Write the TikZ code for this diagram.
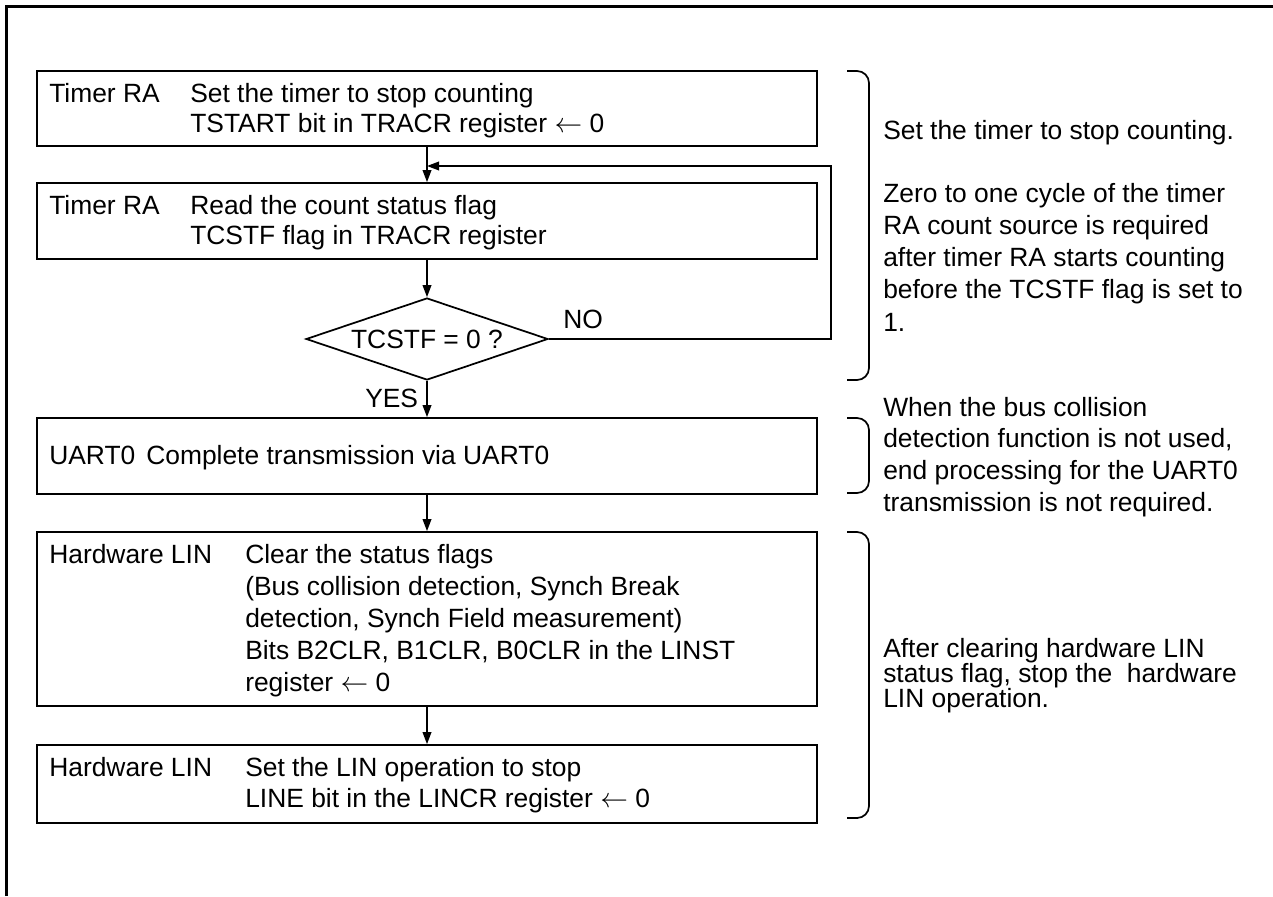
\documentclass[tikz,border=0pt]{standalone}
\usepackage{fontspec}
\setmainfont{Liberation Sans}
\usetikzlibrary{arrows.meta,shapes.geometric}
\newcommand\txtline[4]{\node[txt] (#1) at (#2,#3) {#4};}
\begin{document}
\begin{tikzpicture}[x=0.75pt,y=-0.75pt,
  every node/.style={font=\fontsize{19.8}{24}\selectfont},
  txt/.style={anchor=base west, inner sep=0pt},
  box/.style={draw, line width=1.3pt, minimum width=585pt, inner sep=0pt},
  arr/.style={line width=1.1pt, -{Triangle[length=9pt,width=6.5pt]}},
  brace/.style={line width=1.3pt, rounded corners=9pt},
  frame/.style={line width=2.4pt}]
\useasboundingbox (0,0) rectangle (1273,896);
\draw[frame] (6.5,896) -- (6.5,6.5) -- (1273,6.5);

% boxes
\node[box, minimum height=56.25pt] (b1) at (427,108.5) {};
\node[box, minimum height=57pt] (b2) at (427,221) {};
\node[draw, line width=1.3pt, diamond, inner sep=0pt, aspect=2.95,
      minimum width=181.5pt, minimum height=61.5pt] (d) at (427,339) {};
\node[inner sep=0pt] (dtxt) at (427,339) {TCSTF = 0 ?};
\node[box, minimum height=57pt] (b3) at (427,456) {};
\node[box, minimum height=130.5pt] (b4) at (427,619) {};
\node[box, minimum height=58.5pt] (b5) at (427,784) {};

% connectors
\coordinate (merge) at (427,166);
\coordinate (loopR) at (831,166);
\draw[arr] (b1.south) -- (b2.north);
\draw[arr] (b2.south) -- (d.north);
\draw[arr] (d.south) -- (b3.north);
\draw[arr] (b3.south) -- (b4.north);
\draw[arr] (b4.south) -- (b5.north);
\draw[arr] (d.east) -| (loopR) -- (merge);
\node[txt] (no) at (563,328) {NO};
\node[txt] (yes) at (365,407) {YES};

% box texts
\txtline{b1a}{49}{102}{Timer RA}
\txtline{b1b}{190}{102}{Set the timer to stop counting}
\txtline{b1c}{190}{132}{TSTART bit in TRACR register $\leftarrow$ 0}
\txtline{b2a}{49}{214}{Timer RA}
\txtline{b2b}{190}{214}{Read the count status flag}
\txtline{b2c}{190}{244}{TCSTF flag in TRACR register}
\txtline{b3a}{49}{464}{UART0}
\txtline{b3b}{146}{464}{Complete transmission via UART0}
\txtline{b4a}{49}{563}{Hardware LIN}
\txtline{b4b}{245}{563}{Clear the status flags}
\txtline{b4c}{245}{595}{(Bus collision detection, Synch Break}
\txtline{b4d}{245}{627}{detection, Synch Field measurement)}
\txtline{b4e}{245}{659}{Bits B2CLR, B1CLR, B0CLR in the LINST}
\txtline{b4f}{245}{691}{register $\leftarrow$ 0}
\txtline{b5a}{49}{776}{Hardware LIN}
\txtline{b5b}{245}{776}{Set the LIN operation to stop}
\txtline{b5c}{245}{807}{LINE bit in the LINCR register $\leftarrow$ 0}

% braces
\coordinate (br1a) at (847,71);  \coordinate (br1b) at (847,380);
\coordinate (br2a) at (847,418); \coordinate (br2b) at (847,493);
\coordinate (br3a) at (847,532); \coordinate (br3b) at (847,818);
\draw[brace] (br1a) -- (869,71) -- (869,380) -- (br1b);
\draw[brace] (br2a) -- (869,418) -- (869,493) -- (br2b);
\draw[brace] (br3a) -- (869,532) -- (869,818) -- (br3b);

% right notes
\txtline{n1}{883}{139}{Set the timer to stop counting.}
\txtline{n2}{883}{202}{Zero to one cycle of the timer}
\txtline{n3}{883}{234}{RA count source is required}
\txtline{n4}{883}{266}{after timer RA starts counting}
\txtline{n5}{883}{298}{before the TCSTF flag is set to}
\txtline{n6}{883}{331}{1.}
\txtline{n7}{883}{416}{When the bus collision}
\txtline{n8}{883}{447}{detection function is not used,}
\txtline{n9}{883}{479}{end processing for the UART0}
\txtline{n10}{883}{511}{transmission is not required.}
\txtline{n11}{883}{657}{After clearing hardware LIN}
\txtline{n12}{883}{682}{status flag, stop the\ \ hardware}
\txtline{n13}{883}{707}{LIN operation.}
\end{tikzpicture}
\end{document}
